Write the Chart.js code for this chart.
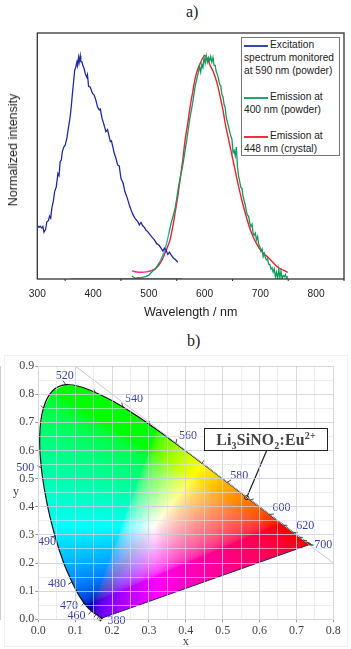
<!DOCTYPE html>
<html>
<head>
<meta charset="utf-8">
<script src="https://cdn.jsdelivr.net/npm/chart.js@4"></script>
<style>
  html, body { margin: 0; padding: 0; background: #fff; }
  #page { position: relative; width: 351px; height: 649px; overflow: hidden; }
  #page canvas { position: absolute; left: 0; }
  #cie { clip-path: inset(8px 0 0 0); }
  .serif { font-family: "Liberation Serif", serif; }
  .sans { font-family: "Liberation Sans", sans-serif; }
  .panel { position: absolute; font-size: 16px; color: #222; }
  #frameB { position: absolute; left: 4px; top: 355px; width: 342px; height: 290px; border: 1px solid #f1f1f8; }
  #yTitleA { position: absolute; left: 13px; top: 150px; font-size: 12.5px; color: #222; white-space: nowrap; transform: translate(-50%, -50%) rotate(-90deg); }
  #yTitleB { position: absolute; left: 13px; top: 484px; font-size: 12px; color: #444; }
  #legendA { position: absolute; left: 241px; top: 37px; width: 97px; height: 117px; border: 1px solid #777; background: #fff; font-size: 10.2px; color: #222; }
  #legendA div { position: absolute; left: 2px; white-space: nowrap; line-height: 12px; }
  #legendA i { position: absolute; left: 2px; width: 24px; height: 2px; }
  #annot { position: absolute; left: 204px; top: 428px; width: 122px; height: 20.5px; border: 1.5px solid #222; background: #fff; color: #444; font-weight: bold; font-size: 15.8px; line-height: 21px; letter-spacing: .2px; text-align: center; white-space: nowrap; }
  #annot sub, #annot sup { font-size: 10px; line-height: 0; }
</style>
</head>
<body>
<div id="page">
  <div class="panel serif" style="left:186px;top:3px">a)</div>
  <canvas id="spectra" width="351" height="330" style="top:0;width:351px;height:330px"></canvas>
  <div id="yTitleA" class="sans">Normalized intensity</div>
  <div id="legendA" class="sans">
    <i style="top:7px;background:#3a45b5"></i><div style="left:28px;top:1px">Excitation</div>
    <div style="top:14px">spectrum monitored</div>
    <div style="top:27px">at 590 nm (powder)</div>
    <i style="top:59px;background:#20a868"></i><div style="left:28px;top:53px">Emission at</div>
    <div style="top:66px">400 nm (powder)</div>
    <i style="top:98px;background:#f03040"></i><div style="left:28px;top:92px">Emission at</div>
    <div style="top:105px">448 nm (crystal)</div>
  </div>

  <div class="panel serif" style="left:187px;top:332px">b)</div>
  <div id="frameB"></div>
  <canvas id="cie" width="351" height="304" style="top:345px;width:351px;height:304px"></canvas>
  <div id="yTitleB" class="serif">y</div>
  <div id="annot" class="serif">Li<sub>3</sub>SiNO<sub>2</sub>:Eu<sup>2+</sup></div>
</div>

<script>
// Panel a) spectra
const excitationNm = [300,303,305,308,310,312,315,317,320,322,324,326,329,331,334,337,339,341,343,345,348,350,353,355,358,360,363,365,367,369,371,372,374,375,377,378,380,382,384,386,389,390,392,395,399,402,405,408,411,413,416,419,423,426,431,433,438,441,444,447,450,454,457,461,465,468,471,475,480,483,486,489,492,495,498,502,506,510,514,518,522,525,528,531,534,537,540,544,548,552];
const excitationVal = [.238,.231,.236,.228,.235,.209,.222,.255,.262,.281,.272,.316,.352,.390,.412,.472,.462,.525,.532,.571,.592,.598,.629,.662,.710,.748,.829,.880,.933,.948,.970,.955,.990,.968,.998,.972,.971,.952,.941,.918,.901,.912,.862,.858,.830,.822,.800,.770,.756,.760,.719,.695,.659,.668,.614,.618,.562,.540,.510,.505,.450,.428,.391,.365,.331,.310,.291,.272,.257,.242,.253,.238,.231,.218,.212,.198,.186,.175,.158,.152,.138,.125,.138,.128,.110,.120,.108,.094,.086,.075];

const emission400Nm = [470,473,476,480,485,490,495,500,504,508,512,516,520,524,528,532,536,540,544,547,550,553,556,559,562,565,568,571,574,577,580,583,586,589,591,593,595,597,599,601,603,605,607,609,611,613,615,617,619,621,623,625,627,629,631,633,635,637,639,641,643,645,647,649,651,653,655,657,659,661,663,665,667,669,671,673,675,677,679,681,683,685,687,689,691,693,695,697,699,701,703,705,707,709,711,713,715,717,719,721,723,725,727,729,731,733,735,737,739,741,743,745,747,749];
const emission400Val = [.012,.008,.003,.006,.005,.008,.012,.017,.028,.038,.045,.062,.078,.100,.125,.160,.205,.250,.285,.315,.360,.410,.450,.485,.525,.575,.620,.675,.725,.765,.810,.860,.895,.925,.950,.925,.960,.945,.990,.965,.998,.970,.990,.975,.995,.970,.990,.955,.955,.925,.915,.895,.870,.865,.825,.815,.780,.765,.720,.700,.680,.660,.640,.625,.565,.575,.550,.590,.500,.460,.435,.410,.405,.370,.350,.330,.300,.285,.280,.250,.235,.245,.205,.195,.205,.175,.190,.155,.145,.125,.135,.100,.115,.095,.085,.090,.065,.065,.045,.050,.030,.045,.010,.030,.000,.045,.005,.035,.000,.015,.010,.020,.000,.012];

const emission448Nm = [470,473,478,487,496,505,511,517,523,529,534,538,543,547,552,556,561,565,570,574,579,583,588,592,596,600,605,610,615,619,624,628,633,637,643,649,655,661,667,673,680,688,694,700,707,715,724,733,741,749];
const emission448Val = [.038,.034,.031,.030,.032,.038,.046,.059,.082,.116,.146,.175,.235,.294,.370,.443,.535,.621,.700,.770,.840,.896,.940,.963,.985,1.0,.985,.955,.930,.903,.860,.814,.755,.695,.625,.554,.483,.413,.350,.294,.235,.183,.155,.130,.112,.094,.070,.049,.040,.030];

const baselineNm = [360,560];
const baselineVal = [0,0];
const xTicksA = [300,400,500,600,700,800];
const xMinorA = [350,450,550,650,750,850];

// Panel b) CIE 1931 spectral locus
const locusNm = [380,390,400,410,420,430,440,450,455,460,465,470,475,480,485,490,495,500,505,510,515,520,525,530,535,540,545,550,555,560,565,570,575,580,585,590,595,600,605,610,615,620,625,630,640,650,660,680,700];
const locusX = [.1741,.1738,.1733,.1726,.1714,.1689,.1644,.1566,.1510,.1440,.1355,.1241,.1096,.0913,.0687,.0454,.0235,.0082,.0039,.0139,.0389,.0743,.1142,.1547,.1929,.2296,.2658,.3016,.3373,.3731,.4087,.4441,.4788,.5125,.5448,.5752,.6029,.6270,.6482,.6658,.6801,.6915,.7006,.7079,.7190,.7260,.7300,.7347,.7347];
const locusY = [.0050,.0049,.0048,.0048,.0051,.0069,.0109,.0177,.0227,.0297,.0399,.0578,.0868,.1327,.2007,.2950,.4127,.5384,.6548,.7502,.8120,.8338,.8262,.8059,.7816,.7543,.7243,.6923,.6589,.6245,.5896,.5547,.5202,.4866,.4544,.4242,.3965,.3725,.3514,.3340,.3197,.3083,.2993,.2920,.2809,.2740,.2700,.2653,.2653];
const labelledNm = [380,460,470,480,490,500,520,540,560,580,600,620,700];
const tickedNm = [380,390,400,410,420,430,440,450,460,470,480,490,500,510,520,530,540,550,560,570,580,590,600,610,620,630,640,650,660,680,700];
const phosphorX = [.565];
const phosphorY = [.432];
const leaderX = [.565,.619];
const leaderY = [.432,.599];
const diagonalX = [.1,.8];
const diagonalY = [.9,.2];

const toXY = (xs, ys) => xs.map((x, i) => ({ x, y: ys[i] }));

// pin the plot box so it sits where the original one does
function pinScale(size, isX) {
  return function (scale) {
    if (isX) scale.height = size; else scale.width = size;
    scale.paddingLeft = scale.paddingRight = scale.paddingTop = scale.paddingBottom = 0;
  };
}

const frameAndMinorTicks = {
  id: 'frameAndMinorTicks',
  afterDraw(chart) {
    const { ctx, chartArea: a, scales } = chart;
    ctx.save();
    ctx.strokeStyle = '#333';
    ctx.lineWidth = 1.3;
    ctx.strokeRect(a.left, a.top, a.right - a.left, a.bottom - a.top);
    ctx.lineWidth = 1;
    xMinorA.forEach(v => {
      const px = scales.x.getPixelForValue(v);
      ctx.beginPath();
      ctx.moveTo(px, a.bottom);
      ctx.lineTo(px, a.bottom + 2);
      ctx.stroke();
    });
    ctx.restore();
  }
};

new Chart(document.getElementById('spectra'), {
  type: 'scatter',
  data: {
    datasets: [
      { label: 'Baseline', data: toXY(baselineNm, baselineVal), showLine: true, borderColor: '#3a4a9a', borderWidth: 1.2, pointRadius: 0 },
      { label: 'Excitation spectrum monitored at 590 nm (powder)', data: toXY(excitationNm, excitationVal), showLine: true, borderColor: '#1f2aa5', borderWidth: 1.3, pointRadius: 0 },
      {
        label: 'Emission at 400 nm (powder)', data: toXY(emission400Nm, emission400Val), showLine: true, borderColor: '#0f9c5e', borderWidth: 1.3, pointRadius: 0,
        segment: { borderColor: c => (c.p0.parsed.x > 518 && c.p0.parsed.x < 536 ? '#20b0c0' : undefined) }
      },
      {
        label: 'Emission at 448 nm (crystal)', data: toXY(emission448Nm, emission448Val), showLine: true, borderColor: '#f0202c', borderWidth: 1.4, pointRadius: 0, cubicInterpolationMode: 'monotone',
        segment: { borderColor: c => (c.p0.parsed.x < 505 ? '#ee2a9a' : undefined) }
      }
    ]
  },
  options: {
    responsive: false,
    animation: false,
    layout: { padding: { top: 33, right: 7, left: 0, bottom: 0 } },
    plugins: { legend: { display: false }, tooltip: { enabled: false } },
    scales: {
      x: {
        type: 'linear', min: 300, max: 850,
        afterBuildTicks: s => { s.ticks = xTicksA.map(value => ({ value })); },
        afterFit: pinScale(51, true),
        grid: { display: false, drawTicks: true, tickLength: 4, tickColor: '#333' },
        border: { display: false },
        ticks: { color: '#222', font: { family: '"Liberation Sans"', size: 10.2 }, padding: 5, maxRotation: 0, autoSkip: false, callback: v => String(v) },
        title: { display: true, text: 'Wavelength / nm', color: '#222', font: { family: '"Liberation Sans"', size: 12.5 }, padding: { top: 6, bottom: 10 } }
      },
      y: {
        type: 'linear', min: 0, max: 1.1,
        afterFit: pinScale(37.3, false),
        grid: { display: false },
        border: { display: false },
        ticks: { display: false }
      }
    }
  },
  plugins: [frameAndMinorTicks]
});

// sRGB colour of a chromaticity, clipped to the gamut; the blue channel drops
// along the white-to-blue wedge, which is how the original diagram shades it
function chromaColor(x, y) {
  const X = x / y, Z = (1 - x - y) / y;
  let r = 3.2406 * X - 1.5372 - 0.4986 * Z;
  let g = -0.9689 * X + 1.8758 + 0.0415 * Z;
  let b = 0.0557 * X - 0.2040 + 1.0570 * Z;
  r = Math.max(r, 0); g = Math.max(g, 0); b = Math.max(b, 0);
  const m = Math.max(r, g, b) || 1;
  r /= m; g /= m; b /= m;
  if (b === 1) {
    const balance = Math.max(1 - Math.abs(r - g) / 0.2, 0);
    b *= 1 - 0.45 * balance * (1 - (r + g) / 2);
  }
  const gam = v => 255 * (v <= 0.0031308 ? 12.92 * v : 1.055 * Math.pow(v, 1 / 2.4) - 0.055);
  return [gam(r), gam(g), gam(b)];
}

const gamutFill = {
  id: 'gamutFill',
  beforeDatasetsDraw(chart) {
    const { ctx, chartArea: a, scales: { x: sx, y: sy } } = chart;
    const w = Math.ceil(a.right - a.left), h = Math.ceil(a.bottom - a.top);
    const off = document.createElement('canvas');
    off.width = w; off.height = h;
    const octx = off.getContext('2d');
    const img = octx.createImageData(w, h);
    for (let j = 0; j < h; j++) {
      const cy = Math.max(sy.getValueForPixel(a.top + j + 0.5), 0.001);
      for (let i = 0; i < w; i++) {
        const c = chromaColor(sx.getValueForPixel(a.left + i + 0.5), cy);
        const k = (j * w + i) * 4;
        img.data[k] = c[0]; img.data[k + 1] = c[1]; img.data[k + 2] = c[2]; img.data[k + 3] = 255;
      }
    }
    octx.putImageData(img, 0, 0);
    ctx.save();
    ctx.beginPath();
    locusX.forEach((x, i) => {
      const px = sx.getPixelForValue(x), py = sy.getPixelForValue(locusY[i]);
      if (i) ctx.lineTo(px, py); else ctx.moveTo(px, py);
    });
    ctx.closePath();
    ctx.clip();
    ctx.drawImage(off, a.left, a.top);
    ctx.restore();
  }
};

// label offsets from the locus, in px
const labelOffsets = { 380: [14, 3], 460: [-15, 5], 470: [-15, 3], 480: [-15, 2], 490: [-8, 6], 500: [-16, 0], 520: [-1, -9], 540: [11, -8], 560: [12, -8], 580: [12, -7], 600: [12, -7], 620: [12, -7], 700: [14, 0] };

const locusLabels = {
  id: 'locusLabels',
  afterDatasetsDraw(chart) {
    const { ctx, scales: { x: sx, y: sy } } = chart;
    const cx = sx.getPixelForValue(0.33), cy = sy.getPixelForValue(0.33);
    ctx.save();
    ctx.strokeStyle = '#222';
    ctx.lineWidth = 0.8;
    tickedNm.forEach(nm => {
      const i = locusNm.indexOf(nm);
      const px = sx.getPixelForValue(locusX[i]), py = sy.getPixelForValue(locusY[i]);
      const d = Math.hypot(px - cx, py - cy);
      const len = labelledNm.includes(nm) ? 4.5 : 3.5;
      ctx.beginPath();
      ctx.moveTo(px, py);
      ctx.lineTo(px + (px - cx) / d * len, py + (py - cy) / d * len);
      ctx.stroke();
    });
    ctx.fillStyle = '#3a3fa5';
    ctx.font = '12px "Liberation Serif"';
    ctx.textAlign = 'center';
    ctx.textBaseline = 'middle';
    labelledNm.forEach(nm => {
      const i = locusNm.indexOf(nm);
      ctx.fillText(String(nm), sx.getPixelForValue(locusX[i]) + labelOffsets[nm][0], sy.getPixelForValue(locusY[i]) + labelOffsets[nm][1]);
    });
    ctx.restore();
  }
};

const isMajor = v => Math.round(v * 100) % 10 === 0;
const gridColor = c => (isMajor(c.tick.value) ? 'rgba(205,205,222,.8)' : 'rgba(225,225,238,.6)');
const tickColor = c => (isMajor(c.tick.value) ? '#999' : 'rgba(0,0,0,0)');
const serifTicks = { color: '#444', font: { family: '"Liberation Serif"', size: 12 }, maxRotation: 0, autoSkip: false, callback: v => (isMajor(v) ? v.toFixed(1) : '') };

new Chart(document.getElementById('cie'), {
  type: 'scatter',
  data: {
    datasets: [
      { label: 'x + y = 1', data: toXY(diagonalX, diagonalY), showLine: true, borderColor: '#c9c9d2', borderWidth: 1, pointRadius: 0 },
      { label: 'Spectral locus', data: toXY(locusX, locusY), showLine: true, tension: 0.3, borderColor: '#111', borderWidth: 1.2, pointRadius: 0 },
      { label: 'Purple line', data: [{ x: locusX[0], y: locusY[0] }, { x: locusX[locusX.length - 1], y: locusY[locusY.length - 1] }], showLine: true, borderColor: '#28286a', borderWidth: 1, pointRadius: 0 },
      { label: 'Leader', data: toXY(leaderX, leaderY), showLine: true, borderColor: '#1c2030', borderWidth: 1.2, pointRadius: 0 },
      { label: 'Li3SiNO2:Eu2+', data: toXY(phosphorX, phosphorY), pointRadius: 2, borderColor: '#111', borderWidth: 1, backgroundColor: 'rgba(255,255,255,.2)' }
    ]
  },
  options: {
    responsive: false,
    animation: false,
    layout: { padding: { top: 21, right: 17.7, left: 0, bottom: 0 } },
    plugins: { legend: { display: false }, tooltip: { enabled: false } },
    scales: {
      x: {
        type: 'linear', min: 0, max: 0.8,
        ticks: { ...serifTicks, stepSize: 0.05, padding: 1 },
        afterFit: pinScale(29.7, true),
        grid: { color: gridColor, tickColor, tickLength: 3, lineWidth: 1, z: 1 },
        border: { color: '#999' },
        title: { display: true, text: 'x', color: '#444', font: { family: '"Liberation Serif"', size: 12 }, padding: 0 }
      },
      y: {
        type: 'linear', min: 0, max: 0.9,
        ticks: { ...serifTicks, stepSize: 0.05, padding: 1 },
        afterFit: pinScale(38.3, false),
        grid: { color: gridColor, tickColor, tickLength: 3, lineWidth: 1, z: 1 },
        border: { color: '#999' }
      }
    }
  },
  plugins: [gamutFill, locusLabels]
});
</script>
</body>
</html>
